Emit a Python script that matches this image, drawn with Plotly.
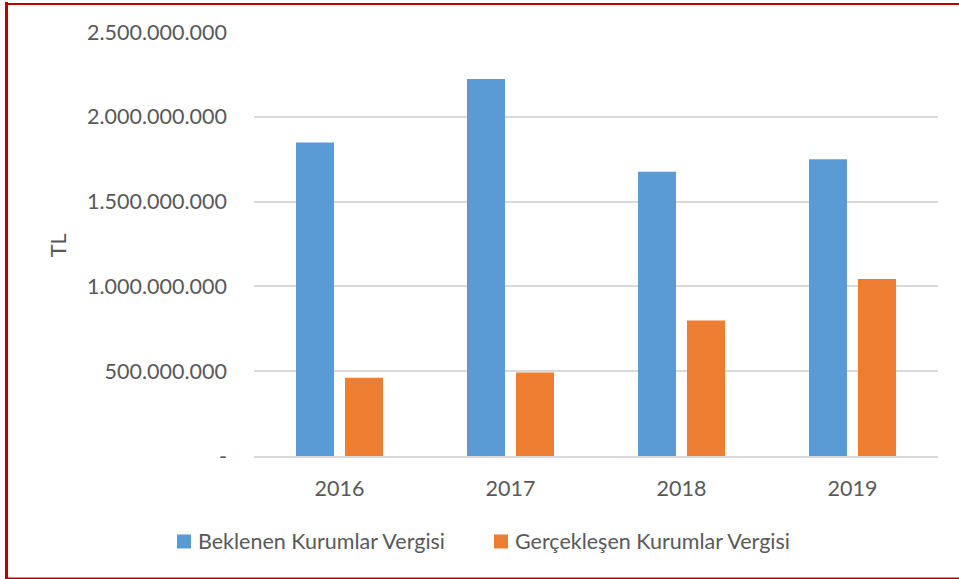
import plotly.graph_objects as go

# Yearly corporate tax figures (TL)
years = ["2016", "2017", "2018", "2019"]
beklenen = [1849000000, 2223000000, 1676000000, 1749000000]
gerceklesen = [462000000, 492000000, 799000000, 1044000000]

series_names = ["Beklenen Kurumlar Vergisi", "Gerçekleşen Kurumlar Vergisi"]
series_colors = ["#5B9BD5", "#ED7D31"]

y_tickvals = [0, 500000000, 1000000000, 1500000000, 2000000000, 2500000000]
y_ticktext = ["-", "500.000.000", "1.000.000.000", "1.500.000.000",
              "2.000.000.000", "2.500.000.000"]

W, H = 959, 579
L, R, T, B = 254, 21, 32, 123.4
plot_w = W - L - R
plot_h = H - T - B

FONT = "Lato, 'Open Sans', sans-serif"
TEXT = "#595959"
FS = 21.5


def px_x(px):
    return (px - L) / plot_w


def px_y(py):
    return (H - B - py) / plot_h


fig = go.Figure()
for name, vals, col in zip(series_names, [beklenen, gerceklesen], series_colors):
    fig.add_trace(go.Bar(x=years, y=vals, name=name, marker_color=col,
                         marker_line_width=0, showlegend=False))

# Outer red frame (the right edge runs off the canvas)
red = "#C00000"
fig.add_shape(type="line", xref="paper", yref="paper", line=dict(color=red, width=3),
              x0=px_x(6.5), x1=px_x(6.5), y0=px_y(2), y1=px_y(579))
fig.add_shape(type="line", xref="paper", yref="paper", line=dict(color=red, width=2),
              x0=px_x(5), x1=px_x(965), y0=px_y(4), y1=px_y(4))
fig.add_shape(type="line", xref="paper", yref="paper", line=dict(color=red, width=2),
              x0=px_x(5), x1=px_x(965), y0=px_y(578), y1=px_y(578))

# Legend drawn below the plot: colour square followed by the series name
legend_left = [177, 494]
legend_cy = 541
for name, col, lx in zip(series_names, series_colors, legend_left):
    fig.add_shape(type="rect", xref="paper", yref="paper", line_width=0,
                  fillcolor=col, x0=px_x(lx), x1=px_x(lx + 14),
                  y0=px_y(legend_cy + 7), y1=px_y(legend_cy - 7))
    fig.add_annotation(text=name, x=px_x(lx + 19), y=px_y(legend_cy),
                       xref="paper", yref="paper", showarrow=False,
                       xanchor="left", yanchor="middle",
                       font=dict(family=FONT, size=FS, color=TEXT))

fig.add_annotation(text="TL", x=px_x(58), y=px_y(245), xref="paper", yref="paper",
                   textangle=-90, showarrow=False, xanchor="center", yanchor="middle",
                   font=dict(family=FONT, size=FS, color=TEXT))

fig.update_layout(
    width=W, height=H,
    margin=dict(l=L, r=R, t=T, b=B, pad=0),
    paper_bgcolor="white", plot_bgcolor="white",
    barmode="group", bargap=0.427, bargroupgap=0.224,
    font=dict(family=FONT, size=FS, color=TEXT),
    showlegend=False,
    xaxis=dict(showgrid=False, showline=True, linecolor="#D9D9D9", linewidth=2,
               ticks="", ticklabelstandoff=12, tickfont=dict(size=FS, color=TEXT)),
    yaxis=dict(range=[0, 2500000000], tickvals=y_tickvals, ticktext=y_ticktext,
               showgrid=True, gridcolor="#D9D9D9", gridwidth=2, zeroline=False,
               showline=False, ticks="", ticklabelstandoff=26,
               tickfont=dict(size=FS, color=TEXT)),
)

fig.write_html("out.html")
